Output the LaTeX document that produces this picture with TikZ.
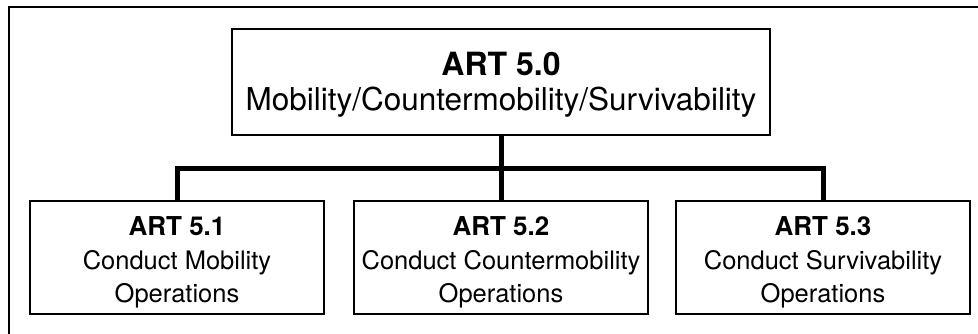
\documentclass[tikz,border=0pt]{standalone}
\usepackage{fontspec}
\setmainfont{TeX Gyre Heros}
\usetikzlibrary{positioning}

\begin{document}
\begin{tikzpicture}[x=1pt,y=-1pt,
    artbox/.style={draw,line width=2pt,inner sep=0pt,align=center},
    topart/.style={artbox,minimum width=538pt,minimum height=106pt,
      font=\fontsize{31.5}{35}\selectfont},
    subart/.style={artbox,minimum width=294pt,minimum height=113pt,
      font=\fontsize{25.5}{32.5}\selectfont},
    bus/.style={line width=5pt,line join=miter}]
      \useasboundingbox (0,0) rectangle (978,333);
      \draw[line width=2pt] (9,340) -- (9,7) -- (990,7);

      \node[topart] (art50) at (501,82)
        {\rule{0pt}{28pt}{\fontsize{32}{35}\selectfont\bfseries ART 5.0}\\
         Mobility/Countermobility/Survivability};

      \begin{scope}[every node/.style={subart}]
        \node (art51) at (177,257.5)
          {\rule{0pt}{28.7pt}{\fontsize{26}{32.5}\selectfont\bfseries ART 5.1}\\[1.5pt]
           Conduct Mobility\\Operations};
        \node (art52) at (501,257.5)
          {\rule{0pt}{28.7pt}{\fontsize{26}{32.5}\selectfont\bfseries ART 5.2}\\[1.5pt]
           Conduct Countermobility\\Operations};
        \node (art53) at (823,257.5)
          {\rule{0pt}{28.7pt}{\fontsize{26}{32.5}\selectfont\bfseries ART 5.3}\\[1.5pt]
           Conduct Survivability\\Operations};
      \end{scope}

      \coordinate (hub) at (501,168);
      \draw[bus] (art50.south) -- (art52.north);
      \draw[bus] (art51.north) |- (hub) -| (art53.north);
    \end{tikzpicture}
\end{document}
